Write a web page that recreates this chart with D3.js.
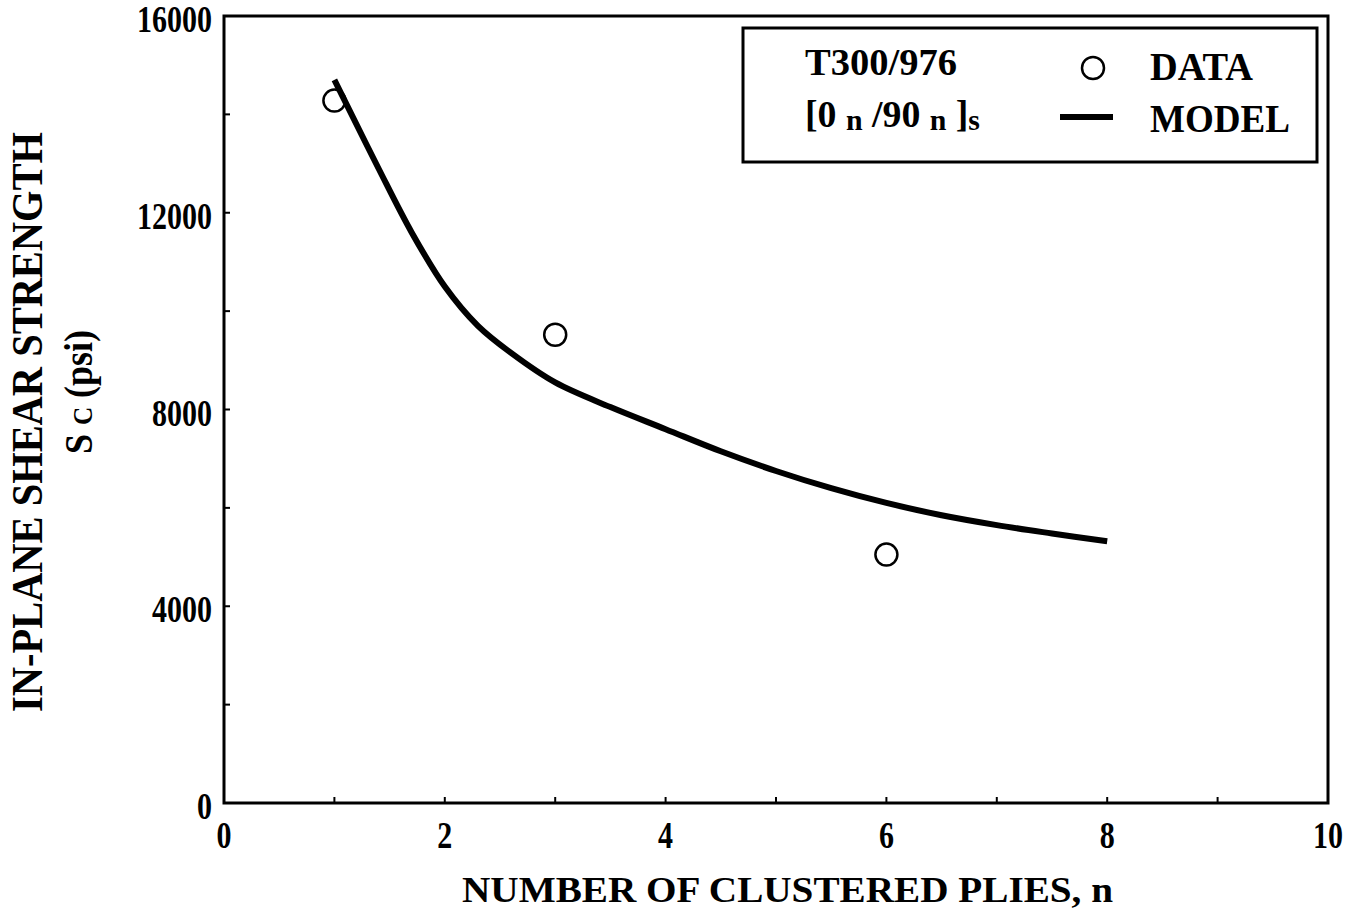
<!DOCTYPE html>
<html>
<head>
<meta charset="utf-8">
<script src="https://cdnjs.cloudflare.com/ajax/libs/d3/7.8.5/d3.min.js"></script>
<style>
  body { margin: 0; background: #fff; }
  svg text { font-family: "Liberation Serif", "Times New Roman", serif; font-weight: bold; fill: #000; }
</style>
</head>
<body>
<svg class="chart"></svg>
<script>
// measured data (n = number of clustered plies)
var dataN = [1, 3, 6];
var dataS = [14280, 9520, 5050];

// model curve
var modelN = [1, 1.1, 1.4, 1.7, 2, 2.3, 2.6, 3, 3.5, 4, 4.5, 5, 5.5, 6, 6.5, 7, 7.5, 8];
var modelS = [14700, 14250, 12900, 11600, 10500, 9700, 9150, 8550, 8050, 7600, 7150, 6750, 6400, 6100, 5850, 5650, 5480, 5320];

var xTicks = [0, 2, 4, 6, 8, 10];
var yTicks = [0, 4000, 8000, 12000, 16000];

var width = 1359;
var height = 916;
var margin = { top: 16, right: 31, bottom: 113, left: 224 };

var chart = d3.select(".chart")
    .attr("width", width)
    .attr("height", height);

var x = d3.scaleLinear().domain([0, 10]).range([margin.left, width - margin.right]);
var y = d3.scaleLinear().domain([0, 16000]).range([height - margin.bottom, margin.top]);

// frame
chart.append("rect")
    .attr("x", x(0)).attr("y", y(16000))
    .attr("width", x(10) - x(0)).attr("height", y(0) - y(16000))
    .attr("fill", "none").attr("stroke", "#000").attr("stroke-width", 3);

// small inward ticks
chart.append("g").selectAll("line")
    .data(d3.range(1, 10))
    .enter().append("line")
    .attr("x1", function(d) { return x(d); })
    .attr("x2", function(d) { return x(d); })
    .attr("y1", y(0))
    .attr("y2", y(0) - 6)
    .attr("stroke", "#000").attr("stroke-width", 2);

chart.append("g").selectAll("line")
    .data(d3.range(2000, 16000, 2000))
    .enter().append("line")
    .attr("x1", x(0))
    .attr("x2", x(0) + 6)
    .attr("y1", function(d) { return y(d); })
    .attr("y2", function(d) { return y(d); })
    .attr("stroke", "#000").attr("stroke-width", 2);

// tick labels (tall, narrow digits)
chart.append("g").selectAll("text")
    .data(xTicks)
    .enter().append("text")
    .attr("x", function(d) { return x(d); })
    .attr("y", y(0) + 45)
    .attr("text-anchor", "middle")
    .attr("textLength", function(d) { return String(d).length * 15; })
    .attr("lengthAdjust", "spacingAndGlyphs")
    .style("font-size", "37px")
    .text(function(d) { return d; });

chart.append("g").selectAll("text")
    .data(yTicks)
    .enter().append("text")
    .attr("x", x(0) - 12)
    .attr("y", function(d) { return y(d) + 16; })
    .attr("text-anchor", "end")
    .attr("textLength", function(d) { return String(d).length * 15; })
    .attr("lengthAdjust", "spacingAndGlyphs")
    .style("font-size", "37px")
    .text(function(d) { return d; });

// axis titles
chart.append("text")
    .attr("x", 462).attr("y", 902)
    .attr("textLength", 651).attr("lengthAdjust", "spacingAndGlyphs")
    .style("font-size", "36px")
    .text("NUMBER OF CLUSTERED PLIES, n");

var ytitle = chart.append("g").attr("transform", "translate(42,422) rotate(-90)");
ytitle.append("text")
    .attr("x", 0).attr("y", 0)
    .attr("text-anchor", "middle")
    .attr("textLength", 580).attr("lengthAdjust", "spacingAndGlyphs")
    .style("font-size", "44px")
    .text("IN-PLANE SHEAR STRENGTH");
var sc = ytitle.append("text")
    .attr("x", 30).attr("y", 50)
    .attr("text-anchor", "middle")
    .attr("textLength", 124).attr("lengthAdjust", "spacingAndGlyphs")
    .style("font-size", "40px");
sc.append("tspan").text("S ");
sc.append("tspan").style("font-size", "28px").text("C");
sc.append("tspan").text(" (psi)");

// model curve
var line = d3.line()
    .x(function(d, i) { return x(modelN[i]); })
    .y(function(d, i) { return y(modelS[i]); })
    .curve(d3.curveCatmullRom.alpha(0.5));

chart.append("path")
    .datum(modelS)
    .attr("d", line)
    .attr("fill", "none")
    .attr("stroke", "#000")
    .attr("stroke-width", 6);

// data points
chart.append("g").selectAll("circle")
    .data(dataS)
    .enter().append("circle")
    .attr("cx", function(d, i) { return x(dataN[i]); })
    .attr("cy", function(d) { return y(d); })
    .attr("r", 11)
    .attr("fill", "none")
    .attr("stroke", "#000")
    .attr("stroke-width", 2.5);

// legend
var legend = chart.append("g");
legend.append("rect")
    .attr("x", 743).attr("y", 28)
    .attr("width", 574).attr("height", 134)
    .attr("fill", "#fff").attr("stroke", "#000").attr("stroke-width", 3);

legend.append("text")
    .attr("x", 805).attr("y", 75)
    .attr("textLength", 152).attr("lengthAdjust", "spacingAndGlyphs")
    .style("font-size", "38px")
    .text("T300/976");

var lay = legend.append("text")
    .attr("x", 805).attr("y", 127)
    .attr("textLength", 175).attr("lengthAdjust", "spacingAndGlyphs")
    .style("font-size", "38px");
lay.append("tspan").text("[0 ");
lay.append("tspan").attr("dy", 3).style("font-size", "30px").text("n");
lay.append("tspan").attr("dy", -3).text(" /90 ");
lay.append("tspan").attr("dy", 3).style("font-size", "30px").text("n");
lay.append("tspan").attr("dy", -3).text(" ]");
lay.append("tspan").attr("dy", 3).style("font-size", "30px").text("s");

legend.append("circle")
    .attr("cx", 1093).attr("cy", 68).attr("r", 11)
    .attr("fill", "none").attr("stroke", "#000").attr("stroke-width", 2.5);
legend.append("text")
    .attr("x", 1150).attr("y", 80)
    .attr("textLength", 103).attr("lengthAdjust", "spacingAndGlyphs")
    .style("font-size", "40px")
    .text("DATA");

legend.append("line")
    .attr("x1", 1060).attr("x2", 1113)
    .attr("y1", 117).attr("y2", 117)
    .attr("stroke", "#000").attr("stroke-width", 6);
legend.append("text")
    .attr("x", 1150).attr("y", 132)
    .attr("textLength", 140).attr("lengthAdjust", "spacingAndGlyphs")
    .style("font-size", "40px")
    .text("MODEL");
</script>
</body>
</html>
